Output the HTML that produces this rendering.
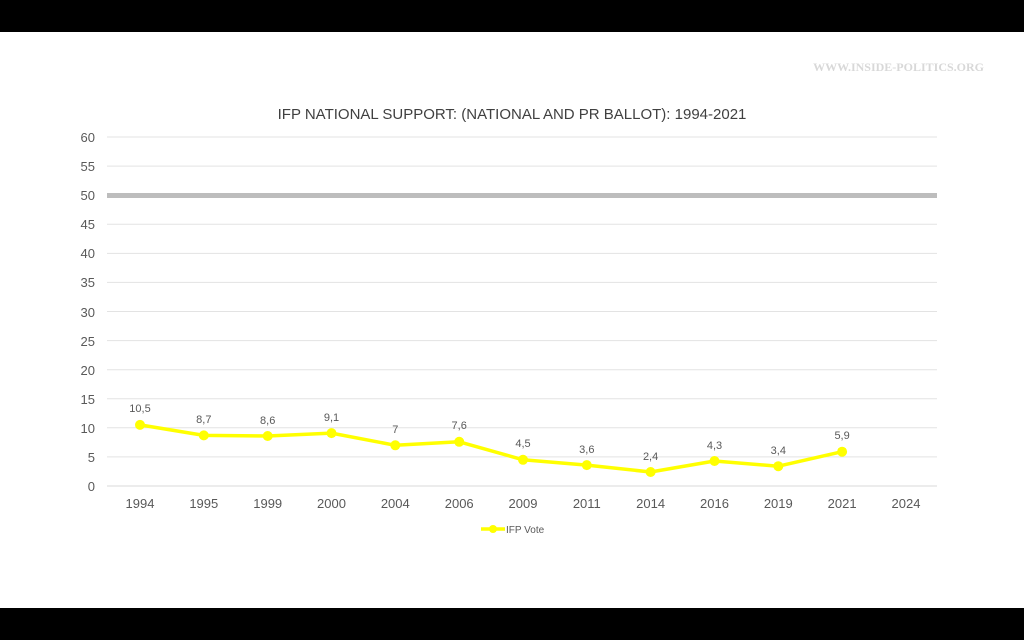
<!DOCTYPE html>
<html><head><meta charset="utf-8"><style>
body{margin:0;width:1024px;height:640px;overflow:hidden;background:#fff}
svg{display:block}
</style></head><body>
<svg width="1024" height="640" xmlns="http://www.w3.org/2000/svg" font-family="Liberation Sans, sans-serif">
<rect x="0" y="0" width="1024" height="32" fill="#000"/>
<rect x="0" y="608" width="1024" height="32" fill="#000"/>
<text x="984" y="71" text-anchor="end" font-family="Liberation Serif, serif" font-weight="bold" font-size="12" fill="#d8d8d8">WWW.INSIDE-POLITICS.ORG</text>
<text x="512" y="119" text-anchor="middle" font-size="15" fill="#404040">IFP NATIONAL SUPPORT: (NATIONAL AND PR BALLOT): 1994-2021</text>
<g stroke="#e3e3e3" stroke-width="1">
<line x1="107" x2="937" y1="486" y2="486" stroke="#d9d9d9"/>
<line x1="107" x2="937" y1="456.9" y2="456.9"/>
<line x1="107" x2="937" y1="427.8" y2="427.8"/>
<line x1="107" x2="937" y1="398.8" y2="398.8"/>
<line x1="107" x2="937" y1="369.7" y2="369.7"/>
<line x1="107" x2="937" y1="340.6" y2="340.6"/>
<line x1="107" x2="937" y1="311.5" y2="311.5"/>
<line x1="107" x2="937" y1="282.4" y2="282.4"/>
<line x1="107" x2="937" y1="253.4" y2="253.4"/>
<line x1="107" x2="937" y1="224.3" y2="224.3"/>
<line x1="107" x2="937" y1="166.1" y2="166.1"/>
<line x1="107" x2="937" y1="137" y2="137"/>
</g>
<rect x="107" y="193" width="830" height="5" fill="#bdbdbd"/>
<g font-size="13" fill="#595959" text-anchor="end">
<text x="95" y="491">0</text><text x="95" y="462">5</text><text x="95" y="433">10</text>
<text x="95" y="404">15</text><text x="95" y="375">20</text><text x="95" y="346">25</text>
<text x="95" y="317">30</text><text x="95" y="287">35</text><text x="95" y="258">40</text>
<text x="95" y="229">45</text><text x="95" y="200">50</text><text x="95" y="171">55</text>
<text x="95" y="142">60</text>
</g>
<g font-size="13" fill="#595959" text-anchor="middle">
<text x="140" y="508">1994</text><text x="203.8" y="508">1995</text><text x="267.7" y="508">1999</text>
<text x="331.5" y="508">2000</text><text x="395.3" y="508">2004</text><text x="459.2" y="508">2006</text>
<text x="523" y="508">2009</text><text x="586.8" y="508">2011</text><text x="650.6" y="508">2014</text>
<text x="714.5" y="508">2016</text><text x="778.3" y="508">2019</text><text x="842.1" y="508">2021</text>
<text x="906" y="508">2024</text>
</g>
<polyline fill="none" stroke="#ffff00" stroke-width="3.5" stroke-linejoin="round" points="140,424.9 203.8,435.4 267.7,436 331.5,433.1 395.3,445.3 459.2,441.8 523,459.8 586.8,465.1 650.6,472 714.5,461 778.3,466.2 842.1,451.7"/>
<g fill="#ffff00">
<circle cx="140" cy="424.9" r="5"/><circle cx="203.8" cy="435.4" r="5"/><circle cx="267.7" cy="436" r="5"/>
<circle cx="331.5" cy="433.1" r="5"/><circle cx="395.3" cy="445.3" r="5"/><circle cx="459.2" cy="441.8" r="5"/>
<circle cx="523" cy="459.8" r="5"/><circle cx="586.8" cy="465.1" r="5"/><circle cx="650.6" cy="472" r="5"/>
<circle cx="714.5" cy="461" r="5"/><circle cx="778.3" cy="466.2" r="5"/><circle cx="842.1" cy="451.7" r="5"/>
</g>
<g font-size="11" fill="#595959" text-anchor="middle">
<text x="140" y="412">10,5</text><text x="203.8" y="423">8,7</text><text x="267.7" y="424">8,6</text>
<text x="331.5" y="421">9,1</text><text x="395.3" y="433">7</text><text x="459.2" y="429">7,6</text>
<text x="523" y="447">4,5</text><text x="586.8" y="453">3,6</text><text x="650.6" y="460">2,4</text>
<text x="714.5" y="449">4,3</text><text x="778.3" y="454">3,4</text><text x="842.1" y="439">5,9</text>
</g>
<line x1="481" x2="505" y1="529" y2="529" stroke="#ffff00" stroke-width="3.5"/>
<circle cx="493" cy="529" r="4" fill="#ffff00"/>
<text x="506" y="533" font-size="10" fill="#595959">IFP Vote</text>
</svg>
</body></html>
